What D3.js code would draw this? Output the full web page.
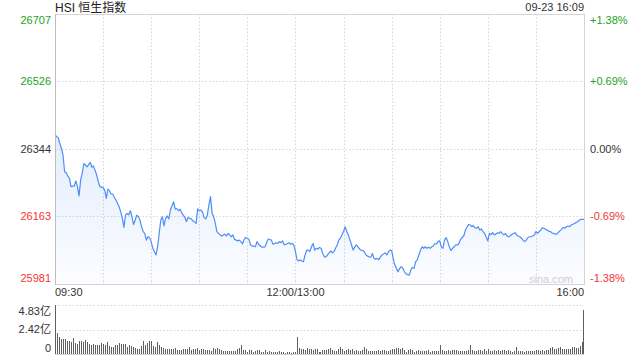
<!DOCTYPE html>
<html>
<head>
<meta charset="utf-8">
<script src="https://cdn.jsdelivr.net/npm/d3@7/dist/d3.min.js"></script>
<style>
  body { margin: 0; background: #fff; }
  text { font-family: "Liberation Sans", Arial, "Noto Sans CJK SC", sans-serif; }
</style>
</head>
<body>
<div class="canvas"></div>
<script>
// ---- data ----
const title = 'HSI 恒生指数';
const stamp = '09-23 16:09';
const prevClose = 26344;
const priceTicks = [26707, 26526, 26344, 26163, 25981];
const pctTicks = ['+1.38%', '+0.69%', '0.00%', '-0.69%', '-1.38%'];
const timeTicks = ['09:30', '12:00/13:00', '16:00'];
const volTicks = ['4.83亿', '2.42亿', '0'];
const volMax = 4.83;

// trading minutes since 09:30 (lunch removed, 0..330)
const minutes = [
  0,1,2,3,4,5,6,7,8,9,10,11,12,13,14,15,16,17,18,19,20,22,23,24,25,26,27,28,30,31,
  32,33,34,35,36,37,38,40,41,42,43,44,45,46,47,48,49,50,51,52,53,54,55,56,57,58,59,60,61,63,
  64,65,66,67,68,69,70,71,72,74,75,76,77,78,79,80,81,82,83,84,85,86,88,89,90,91,92,93,94,95,
  96,97,98,99,100,101,103,104,105,106,107,108,110,111,112,113,114,115,116,117,118,119,120,121,
  122,123,124,125,126,127,128,129,130,131,132,133,135,136,137,138,139,140,141,142,143,145,146,147,148,149,150,
  151,152,153,154,155,156,157,158,159,160,161,162,163,164,165,166,167,168,169,170,
  172,173,174,175,176,177,178,179,180,181,182,183,184,185,186,187,188,189,190,191,
  192,193,194,195,196,197,198,199,200,201,202,203,204,205,206,207,208,209,210,211,
  212,213,214,215,216,217,218,219,221,222,223,224,225,226,227,228,229,230,231,232,233,
  234,235,236,237,238,239,240,241,242,243,244,245,246,247,248,249,250,251,252,253,
  254,255,256,258,259,260,261,262,263,264,265,266,267,268,270,271,272,273,274,275,
  276,277,278,279,280,281,282,283,284,285,286,287,288,289,290,291,292,293,294,295,
  296,297,298,299,300,301,302,303,304,305,306,307,308,309,310,311,312,313,314,315,
  316,317,318,319,320,321,322,323,324,325,326,328,330
];
const prices = [
  26384,26377,26375,26359,26346,26328,26283,26280,26271,26265,26243,26244,26244,26258,26243,26218,26261,26279,26305,26301,26296,26308,26295,26298,26287,26274,26256,26243,26240,26234,
  26211,26236,26232,26223,26223,26214,26207,26189,26175,26158,26133,26166,26171,26167,26178,26162,26141,26153,26166,26162,26153,26135,26122,26117,26099,26108,26106,26095,26077,26059,
  26081,26117,26153,26162,26137,26158,26164,26156,26180,26202,26182,26184,26178,26182,26173,26166,26160,26149,26160,26158,26156,26151,26144,26183,26178,26180,26175,26160,26156,26166,
  26193,26216,26171,26162,26144,26122,26113,26110,26113,26115,26110,26117,26108,26113,26101,26099,26097,26099,26095,26089,26101,26106,26104,26101,
  26086,26083,26083,26081,26095,26088,26084,26080,26080,26081,26092,26102,26099,26088,26090,26092,26090,26095,26092,26097,26086,26090,26092,26088,26090,26086,26068,
  26046,26043,26046,26043,26041,26059,26072,26072,26068,26081,26090,26072,26077,26075,26079,26077,26063,26054,26054,26059,
  26070,26065,26068,26077,26086,26099,26104,26113,26122,26135,26122,26113,26099,26086,26072,26081,26086,26081,26075,26072,
  26071,26068,26059,26056,26054,26053,26063,26050,26048,26050,26046,26054,26059,26062,26065,26059,26068,26072,26071,26050,
  26032,26023,26014,26023,26028,26023,26014,26008,26005,26019,26026,26023,26041,26046,26059,26072,26081,26077,26081,26077,26080,
  26077,26081,26083,26090,26089,26095,26097,26081,26077,26099,26106,26095,26081,26071,26077,26081,26086,26086,26090,26101,
  26106,26110,26126,26141,26140,26135,26138,26132,26131,26135,26126,26129,26122,26117,26097,26117,26114,26119,26113,26115,
  26119,26117,26122,26117,26113,26117,26110,26108,26111,26114,26117,26119,26113,26110,26108,26104,26099,26095,26099,26106,
  26108,26108,26110,26113,26122,26117,26122,26126,26132,26131,26128,26126,26123,26122,26119,26117,26115,26115,26120,26124,
  26128,26133,26131,26135,26137,26135,26140,26141,26144,26146,26149,26155,26155
];

// turnover per bar, in 亿
const volumes = [
  4.83,2.11,1.72,1.45,1.52,1.45,1.32,1.29,1.22,1.58,1.12,1.02,1.29,1.32,1.19,1.39,1.19,1.02,0.89,0.99,
  0.92,0.89,0.89,1.09,0.99,0.86,1.19,0.79,0.73,0.73,0.89,0.92,1.06,0.99,0.99,1.02,0.73,0.89,0.79,0.66,
  0.56,0.50,0.50,0.79,1.25,0.89,1.06,1.29,1.29,0.79,0.69,1.19,0.86,0.73,0.56,0.46,0.50,0.50,0.50,0.50,
  0.59,0.40,0.40,0.40,0.53,0.46,0.53,0.66,0.43,0.50,0.46,0.63,0.40,0.50,0.46,0.43,0.40,0.43,0.33,0.56,
  0.53,0.56,0.50,0.40,0.33,0.33,0.33,
  0.30,0.30,0.30,0.33,0.50,0.56,0.89,0.40,0.40,0.23,0.40,0.36,0.23,0.26,0.40,0.40,0.23,0.17,0.36,0.20,
  0.30,0.20,0.23,0.23,0.20,0.30,0.20,0.23,0.13,0.20,0.20,0.13,0.20,0.20,1.68,0.56,0.50,0.46,0.40,0.56,
  0.50,0.50,0.40,0.50,0.50,0.23,0.23,0.40,0.40,0.40,0.50,0.56,0.40,0.33,0.33,0.46,0.66,0.46,0.33,0.40,
  0.50,0.40,0.46,0.33,0.40,0.33,0.26,0.40,0.69,0.46,0.33,0.33,0.33,0.30,0.30,0.40,0.30,0.40,0.40,0.33,
  0.33,0.40,0.46,0.50,0.63,0.56,0.50,0.63,0.40,0.23,
  0.40,0.50,0.40,0.23,0.33,0.40,0.33,0.33,0.33,0.33,0.40,0.23,0.30,0.33,0.33,0.30,0.89,0.40,0.33,0.30,
  0.40,0.33,0.40,0.40,0.40,0.30,0.30,0.33,0.33,0.30,0.40,0.89,0.40,0.30,0.33,0.40,0.40,0.30,0.46,0.33,
  0.46,0.30,0.33,0.40,0.33,0.40,0.33,0.40,0.40,0.33,0.40,0.30,0.23,0.30,0.66,0.30,0.30,0.30,0.23,0.33,
  0.30,0.30,0.33,0.33,0.40,0.40,0.33,0.40,0.33,0.40,0.40,0.56,0.66,0.50,0.46,0.56,0.66,0.50,0.50,0.46,
  0.50,0.50,0.69,0.66,0.56,0.56,0.83,1.22,4.29
];

// ---- layout ----
const W = 640, H = 360;
const plot = { left: 55, right: 584, top: 14, bottom: 284 };
const vol = { top: 305, bottom: 354 };
const green = '#22a322', red = '#f23535', dark = '#333';
const tickColor = i => i < 2 ? green : (i === 2 ? dark : red);

const svg = d3.select('.canvas').append('svg')
  .attr('width', W).attr('height', H);

// scales
const x = d3.scaleLinear().domain([0, 330]).range([plot.left, plot.right]);
const y = d3.scaleLinear()
  .domain([priceTicks[priceTicks.length - 1], priceTicks[0]])
  .range([plot.bottom, plot.top]);
const xv = d3.scaleLinear().domain([0, volumes.length - 1]).range([plot.left, plot.right]);
const yv = d3.scaleLinear().domain([0, volMax]).range([vol.bottom, vol.top]);

// gridlines
const grid = svg.append('g').attr('stroke', '#d6d6d6').attr('stroke-dasharray', '1.5,2');
grid.selectAll('.vg').data(d3.range(30, 330, 30)).enter().append('line')
  .attr('x1', d => Math.round(x(d)) + 0.5).attr('x2', d => Math.round(x(d)) + 0.5)
  .attr('y1', plot.top).attr('y2', plot.bottom);
grid.selectAll('.hg').data(priceTicks.slice(1, -1)).enter().append('line')
  .attr('x1', plot.left).attr('x2', plot.right)
  .attr('y1', d => Math.round(y(d)) + 0.5).attr('y2', d => Math.round(y(d)) + 0.5);
grid.selectAll('.vgl').data([volMax, volMax / 2]).enter().append('line')
  .attr('x1', plot.left).attr('x2', plot.right)
  .attr('y1', d => Math.round(yv(d)) + 0.5).attr('y2', d => Math.round(yv(d)) + 0.5);

// price area + line
const pts = d3.zip(minutes, prices);
const grad = svg.append('defs').append('linearGradient')
  .attr('id', 'fade').attr('x1', 0).attr('x2', 0).attr('y1', 0).attr('y2', 1);
grad.append('stop').attr('offset', '0%').attr('stop-color', '#4d8ef5').attr('stop-opacity', 0.16);
grad.append('stop').attr('offset', '100%').attr('stop-color', '#4d8ef5').attr('stop-opacity', 0.02);

svg.append('path').datum(pts)
  .attr('fill', 'url(#fade)')
  .attr('d', d3.area().x(d => x(d[0])).y0(plot.bottom).y1(d => y(d[1])));
svg.append('path').datum(pts)
  .attr('fill', 'none').attr('stroke', '#4f8ef5').attr('stroke-width', 1.2)
  .attr('stroke-linejoin', 'round')
  .attr('d', d3.line().x(d => x(d[0])).y(d => y(d[1])));

// frame
svg.append('rect')
  .attr('x', plot.left + 0.5).attr('y', plot.top + 0.5)
  .attr('width', plot.right - plot.left).attr('height', plot.bottom - plot.top)
  .attr('fill', 'none').attr('stroke', '#d4d4d4');
svg.append('line')
  .attr('x1', plot.left + 0.5).attr('x2', plot.left + 0.5)
  .attr('y1', plot.top).attr('y2', plot.bottom + 1)
  .attr('stroke', '#bdbdbd');

// watermark
svg.append('text').attr('x', 573).attr('y', 283).attr('text-anchor', 'end')
  .attr('font-size', 11).attr('fill', '#cfcfcf').text('sina.com');

// left price labels / right percent labels
const labY = (d, i) => {
  const v = y(d);
  if (i === 0) return v + 6;
  if (i === priceTicks.length - 1) return v - 6;
  return v;
};
svg.selectAll('.pl').data(priceTicks).enter().append('text')
  .attr('x', 51).attr('y', labY).attr('dy', '0.35em')
  .attr('text-anchor', 'end').attr('font-size', 11)
  .attr('fill', (d, i) => tickColor(i)).text(d => d);
svg.selectAll('.pr').data(priceTicks).enter().append('text')
  .attr('x', 590).attr('y', labY).attr('dy', '0.35em')
  .attr('font-size', 11)
  .attr('fill', (d, i) => tickColor(i)).text((d, i) => pctTicks[i]);

// time labels
svg.selectAll('.tl').data(timeTicks).enter().append('text')
  .attr('x', (d, i) => [x(0), x(150), x(330)][i])
  .attr('y', 292).attr('dy', '0.35em')
  .attr('text-anchor', (d, i) => ['start', 'middle', 'end'][i])
  .attr('font-size', 11).attr('fill', dark).text(d => d);

// title and stamp
svg.append('text').attr('x', plot.left).attr('y', 12)
  .attr('font-size', 12).attr('fill', '#222').text(title);
svg.append('text').attr('x', plot.right).attr('y', 11).attr('text-anchor', 'end')
  .attr('font-size', 11).attr('fill', dark).text(stamp);

// volume bars
svg.append('line')
  .attr('x1', plot.left).attr('x2', plot.right)
  .attr('y1', vol.bottom + 0.5).attr('y2', vol.bottom + 0.5)
  .attr('stroke', '#d4d4d4');
svg.append('g').attr('shape-rendering', 'crispEdges')
  .selectAll('rect').data(volumes).enter().append('rect')
  .attr('x', (d, i) => Math.min(Math.round(xv(i)), plot.right - 1))
  .attr('width', 1)
  .attr('y', d => Math.round(yv(d)))
  .attr('height', d => vol.bottom - Math.round(yv(d)))
  .attr('fill', '#5f5f5f');

svg.selectAll('.vl').data(volTicks).enter().append('text')
  .attr('x', 51)
  .attr('y', (d, i) => [yv(volMax) + 6, yv(volMax / 2), yv(0) - 6][i])
  .attr('dy', '0.35em').attr('text-anchor', 'end')
  .attr('font-size', 11).attr('fill', dark).text(d => d);
</script>
</body>
</html>
